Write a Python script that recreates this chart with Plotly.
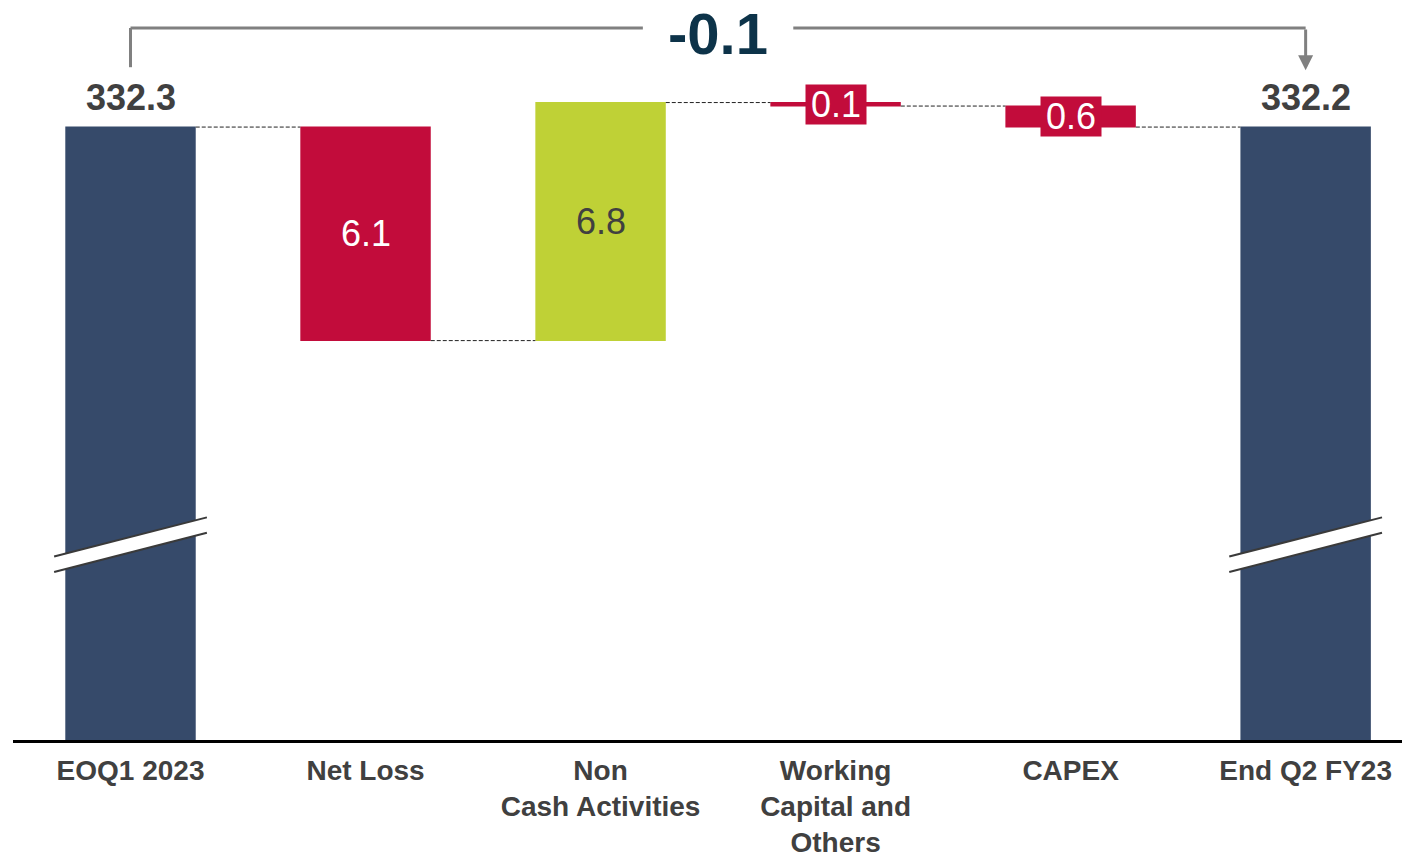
import plotly.graph_objects as go

categories = ["EOQ1 2023", "Net Loss", "Non<br>Cash Activities", "Working<br>Capital and<br>Others", "CAPEX", "End Q2 FY23"]
measures = ["absolute", "relative", "relative", "relative", "relative", "total"]
values = [332.3, -6.1, 6.8, -0.1, -0.6, 332.2]
labels = ["332.3", "6.1", "6.8", "0.1", "0.6", "332.2"]

NAVY = "#364A6A"
RED = "#C20C3B"
GREEN = "#BFD136"
TXT = "#404040"
GRAY = "#808080"
FONT = "Liberation Sans, Arial"

y_min, y_max = 314.79, 335.93

fig = go.Figure(go.Waterfall(
    x=categories, y=values, measure=measures,
    width=0.555,
    increasing=dict(marker=dict(color=GREEN)),
    decreasing=dict(marker=dict(color=RED)),
    totals=dict(marker=dict(color=NAVY)),
    connector=dict(mode="between", line=dict(color="#222222", width=1, dash="4px,2px")),
    textposition="none", hoverinfo="skip",
))

annotations = []
shapes = []
level = 0.0
for i, (m, v) in enumerate(zip(measures, values)):
    if m in ("absolute", "total"):
        if m == "absolute":
            level = v
        hi = level
        annotations.append(dict(x=i, y=hi, text=f"<b>{labels[i]}</b>", showarrow=False,
                                yanchor="bottom", yshift=7,
                                font=dict(size=36, color=TXT, family=FONT)))
        # axis break marks on total bars
        yb = 320.03
        dy = 1.12
        off = 0.44
        x0, x1 = i - 0.325, i + 0.325
        shapes.append(dict(type="path", xref="x", yref="y",
                           path=f"M {x0} {yb} L {x1} {yb+dy} L {x1} {yb+dy-off} L {x0} {yb-off} Z",
                           fillcolor="white", line=dict(width=0), layer="above"))
        for yy in (yb, yb - off):
            shapes.append(dict(type="line", xref="x", yref="y", x0=x0, y0=yy, x1=x1, y1=yy + dy,
                               line=dict(color="#3a3a3a", width=2), layer="above"))
    else:
        start = level
        level = level + v
        mid = (start + level) / 2
        if abs(v) >= 1:
            annotations.append(dict(x=i, y=mid, text=labels[i], showarrow=False,
                                    font=dict(size=36, color="white" if v < 0 else TXT, family=FONT)))
        else:
            annotations.append(dict(x=i, y=mid, text=labels[i], showarrow=False,
                                    bgcolor=RED if v < 0 else GREEN, borderpad=2,
                                    width=56, height=35,
                                    font=dict(size=36, color="white", family=FONT)))

# top bracket with overall change
change = values[-1] - values[0]
yb_top = 335.13
y_left_end = 334.01
y_arrow_tip = 333.92
mid_x = (len(categories) - 1) / 2
gap = 0.32
shapes += [
    dict(type="line", xref="x", yref="y", x0=0, x1=0, y0=y_left_end, y1=yb_top, line=dict(color=GRAY, width=3)),
    dict(type="line", xref="x", yref="y", x0=0, x1=mid_x - gap, y0=yb_top, y1=yb_top, line=dict(color=GRAY, width=3)),
    dict(type="line", xref="x", yref="y", x0=mid_x + gap, x1=len(categories) - 1, y0=yb_top, y1=yb_top, line=dict(color=GRAY, width=3)),
]
annotations.append(dict(x=len(categories) - 1, y=y_arrow_tip, ax=len(categories) - 1, ay=yb_top,
                        xref="x", yref="y", axref="x", ayref="y", showarrow=True, text="",
                        arrowhead=2, arrowsize=1, arrowwidth=3, arrowcolor=GRAY))
annotations.append(dict(x=mid_x, xref="x", y=1, yref="paper", yanchor="top", text=f"<b>{change:.1f}</b>",
                        showarrow=False, borderpad=0,
                        font=dict(size=58, color="#0D3349", family=FONT)))

fig.update_layout(
    width=1402, height=857,
    margin=dict(l=13, r=0, t=0, b=117),
    paper_bgcolor="white", plot_bgcolor="white",
    showlegend=False,
    shapes=shapes, annotations=annotations,
    xaxis=dict(type="category", categoryarray=categories, range=[-0.5, 5.41],
               showline=True, linecolor="black", linewidth=3, automargin=False,
               ticks="outside", ticklen=3, tickcolor="white",
               tickvals=categories, ticktext=[f"<b>{c}</b>" for c in categories],
               tickfont=dict(size=28, color=TXT, family=FONT),
               showgrid=False, zeroline=False),
    yaxis=dict(range=[y_min, y_max], visible=False, showgrid=False, zeroline=False, automargin=False),
)

fig.write_html("out.html", config={"displayModeBar": False},
               post_script="document.body.style.margin='0';document.body.style.overflow='hidden';")
